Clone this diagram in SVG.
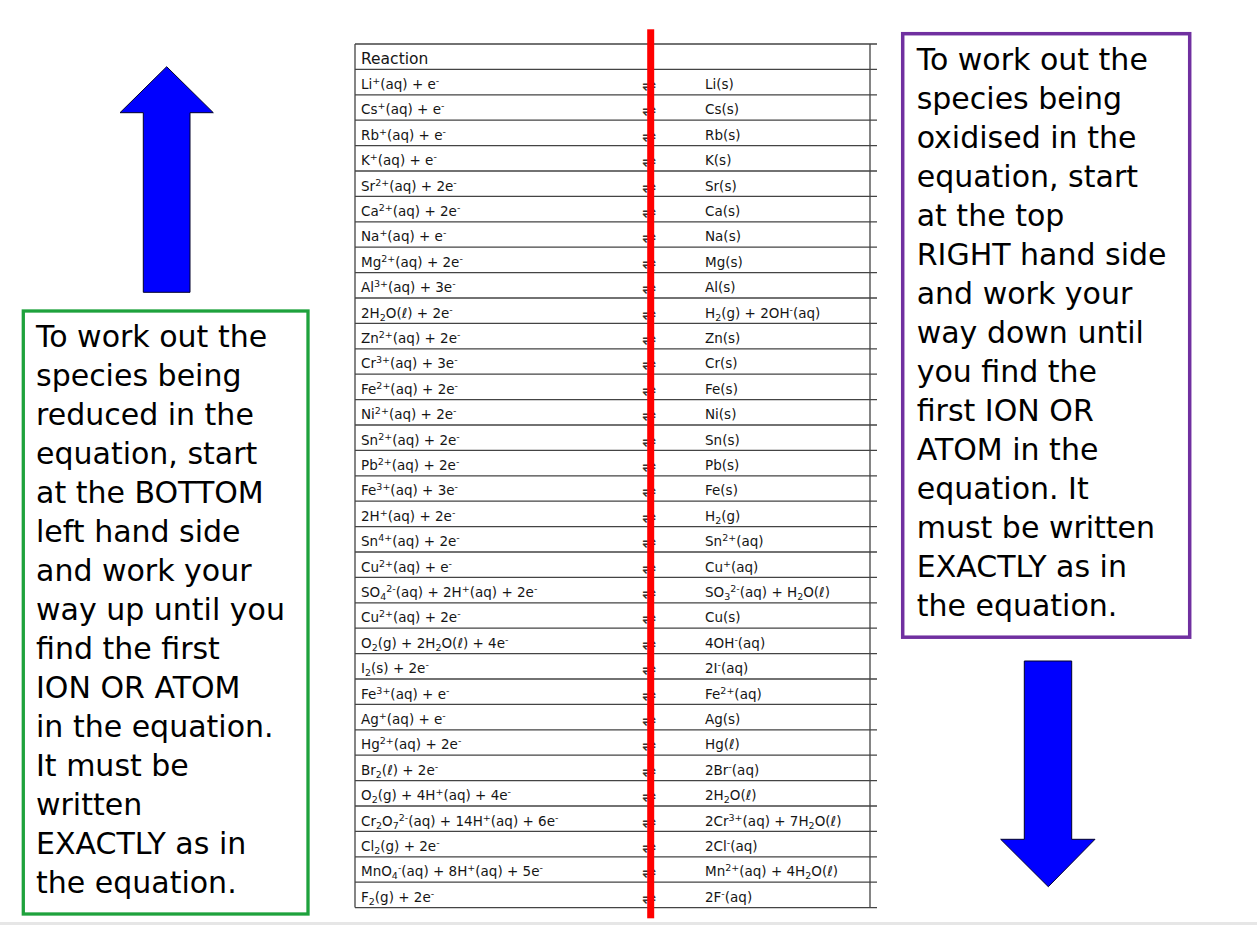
<svg xmlns="http://www.w3.org/2000/svg" xmlns:xlink="http://www.w3.org/1999/xlink" width="1257" height="925" viewBox="0 0 1257 925">
<style>
.t{font-family:"DejaVu Sans","Liberation Sans",sans-serif;font-size:13.5px;fill:#151515}
.h{font-family:"DejaVu Sans","Liberation Sans",sans-serif;font-size:15.5px;fill:#151515}
.u{font-size:9.5px;baseline-shift:5px}
.d{font-size:9.5px;baseline-shift:-3px}
.eq{font-family:"DejaVu Sans",sans-serif;font-size:17px;fill:#333;text-anchor:middle}
.note{font-family:"Comic Sans MS","DejaVu Sans",sans-serif;font-size:30px;fill:#000}
.arrow{fill:#0000ff;stroke:#00002a;stroke-width:1}
.grid{stroke:#444;stroke-width:1.3;fill:none}
</style>
<rect x="0" y="0" width="1257" height="925" fill="#fff"/>
<rect x="0" y="922" width="1257" height="3" fill="#e6e6e6"/>

<g id="up-arrow">
<polygon class="arrow" points="166.7,66.7 213.3,112.7 190,112.7 190,292.3 143.3,292.3 143.3,112.7 120,112.7"/>
</g>
<g id="down-arrow">
<polygon class="arrow" points="1024.3,661 1071.7,661 1071.7,839.3 1095,839.3 1048.3,886.7 1000.7,839.3 1024.3,839.3"/>
</g>

<g id="reduced-box">
<rect x="23.3" y="311" width="284.7" height="603" fill="#fff" stroke="#1ea23c" stroke-width="3.3"/>
<text class="note" x="36">
<tspan x="36" y="346.7">To work out the</tspan>
<tspan x="36" y="385.7">species being</tspan>
<tspan x="36" y="424.8">reduced in the</tspan>
<tspan x="36" y="463.8">equation, start</tspan>
<tspan x="36" y="502.9">at the BOTTOM</tspan>
<tspan x="36" y="541.9">left hand side</tspan>
<tspan x="36" y="581">and work your</tspan>
<tspan x="36" y="620">way up until you</tspan>
<tspan x="36" y="659">find the first</tspan>
<tspan x="36" y="698.1">ION OR ATOM</tspan>
<tspan x="36" y="737.1">in the equation.</tspan>
<tspan x="36" y="776.2">It must be</tspan>
<tspan x="36" y="815.2">written</tspan>
<tspan x="36" y="854.3">EXACTLY as in</tspan>
<tspan x="36" y="893.3">the equation.</tspan>
</text>
</g>

<g id="oxidised-box">
<rect x="902.7" y="33.7" width="287" height="603.5" fill="#fff" stroke="#7030a0" stroke-width="3.5"/>
<text class="note" x="916.7">
<tspan x="916.7" y="70">To work out the</tspan>
<tspan x="916.7" y="109">species being</tspan>
<tspan x="916.7" y="148">oxidised in the</tspan>
<tspan x="916.7" y="187">equation, start</tspan>
<tspan x="916.7" y="226">at the top</tspan>
<tspan x="916.7" y="265">RIGHT hand side</tspan>
<tspan x="916.7" y="304">and work your</tspan>
<tspan x="916.7" y="343">way down until</tspan>
<tspan x="916.7" y="382">you find the</tspan>
<tspan x="916.7" y="421">first ION OR</tspan>
<tspan x="916.7" y="460">ATOM in the</tspan>
<tspan x="916.7" y="499">equation. It</tspan>
<tspan x="916.7" y="538">must be written</tspan>
<tspan x="916.7" y="577">EXACTLY as in</tspan>
<tspan x="916.7" y="616">the equation.</tspan>
</text>
</g>

<g id="table">
<path class="grid" d="M355,44H877M355,69.4H877M355,94.8H877M355,120.2H877M355,145.6H877M355,171H877M355,196.4H877M355,221.8H877M355,247.2H877M355,272.6H877M355,298H877M355,323.4H877M355,348.8H877M355,374.2H877M355,399.6H877M355,425H877M355,450.4H877M355,475.8H877M355,501.2H877M355,526.6H877M355,552H877M355,577.4H877M355,602.8H877M355,628.2H877M355,653.6H877M355,679H877M355,704.4H877M355,729.8H877M355,755.2H877M355,780.6H877M355,806H877M355,831.4H877M355,856.8H877M355,882.2H877M355,907.6H877M355,44V907.6M870,44V907.6"/>
<text class="h" x="361" y="63.7">Reaction</text>

<g id="left-col" class="t">
<text x="361" y="88.9">Li<tspan class="u">+</tspan>(aq) + e<tspan class="u">-</tspan></text>
<text x="361" y="114.3">Cs<tspan class="u">+</tspan>(aq) + e<tspan class="u">-</tspan></text>
<text x="361" y="139.7">Rb<tspan class="u">+</tspan>(aq) + e<tspan class="u">-</tspan></text>
<text x="361" y="165.1">K<tspan class="u">+</tspan>(aq) + e<tspan class="u">-</tspan></text>
<text x="361" y="190.5">Sr<tspan class="u">2+</tspan>(aq) + 2e<tspan class="u">-</tspan></text>
<text x="361" y="215.9">Ca<tspan class="u">2+</tspan>(aq) + 2e<tspan class="u">-</tspan></text>
<text x="361" y="241.3">Na<tspan class="u">+</tspan>(aq) + e<tspan class="u">-</tspan></text>
<text x="361" y="266.7">Mg<tspan class="u">2+</tspan>(aq) + 2e<tspan class="u">-</tspan></text>
<text x="361" y="292.1">Al<tspan class="u">3+</tspan>(aq) + 3e<tspan class="u">-</tspan></text>
<text x="361" y="317.5">2H<tspan class="d">2</tspan>O(ℓ) + 2e<tspan class="u">-</tspan></text>
<text x="361" y="342.9">Zn<tspan class="u">2+</tspan>(aq) + 2e<tspan class="u">-</tspan></text>
<text x="361" y="368.3">Cr<tspan class="u">3+</tspan>(aq) + 3e<tspan class="u">-</tspan></text>
<text x="361" y="393.7">Fe<tspan class="u">2+</tspan>(aq) + 2e<tspan class="u">-</tspan></text>
<text x="361" y="419.1">Ni<tspan class="u">2+</tspan>(aq) + 2e<tspan class="u">-</tspan></text>
<text x="361" y="444.5">Sn<tspan class="u">2+</tspan>(aq) + 2e<tspan class="u">-</tspan></text>
<text x="361" y="469.9">Pb<tspan class="u">2+</tspan>(aq) + 2e<tspan class="u">-</tspan></text>
<text x="361" y="495.3">Fe<tspan class="u">3+</tspan>(aq) + 3e<tspan class="u">-</tspan></text>
<text x="361" y="520.7">2H<tspan class="u">+</tspan>(aq) + 2e<tspan class="u">-</tspan></text>
<text x="361" y="546.1">Sn<tspan class="u">4+</tspan>(aq) + 2e<tspan class="u">-</tspan></text>
<text x="361" y="571.5">Cu<tspan class="u">2+</tspan>(aq) + e<tspan class="u">-</tspan></text>
<text x="361" y="596.9">SO<tspan class="d">4</tspan><tspan class="u">2-</tspan>(aq) + 2H<tspan class="u">+</tspan>(aq) + 2e<tspan class="u">-</tspan></text>
<text x="361" y="622.3">Cu<tspan class="u">2+</tspan>(aq) + 2e<tspan class="u">-</tspan></text>
<text x="361" y="647.7">O<tspan class="d">2</tspan>(g) + 2H<tspan class="d">2</tspan>O(ℓ) + 4e<tspan class="u">-</tspan></text>
<text x="361" y="673.1">I<tspan class="d">2</tspan>(s) + 2e<tspan class="u">-</tspan></text>
<text x="361" y="698.5">Fe<tspan class="u">3+</tspan>(aq) + e<tspan class="u">-</tspan></text>
<text x="361" y="723.9">Ag<tspan class="u">+</tspan>(aq) + e<tspan class="u">-</tspan></text>
<text x="361" y="749.3">Hg<tspan class="u">2+</tspan>(aq) + 2e<tspan class="u">-</tspan></text>
<text x="361" y="774.7">Br<tspan class="d">2</tspan>(ℓ) + 2e<tspan class="u">-</tspan></text>
<text x="361" y="800.1">O<tspan class="d">2</tspan>(g) + 4H<tspan class="u">+</tspan>(aq) + 4e<tspan class="u">-</tspan></text>
<text x="361" y="825.5">Cr<tspan class="d">2</tspan>O<tspan class="d">7</tspan><tspan class="u">2-</tspan>(aq) + 14H<tspan class="u">+</tspan>(aq) + 6e<tspan class="u">-</tspan></text>
<text x="361" y="850.9">Cl<tspan class="d">2</tspan>(g) + 2e<tspan class="u">-</tspan></text>
<text x="361" y="876.3">MnO<tspan class="d">4</tspan><tspan class="u">-</tspan>(aq) + 8H<tspan class="u">+</tspan>(aq) + 5e<tspan class="u">-</tspan></text>
<text x="361" y="901.7">F<tspan class="d">2</tspan>(g) + 2e<tspan class="u">-</tspan></text>
</g>

<g id="equilibria" class="eq">
<text x="649" y="90.9">⇌</text><text x="649" y="116.3">⇌</text><text x="649" y="141.7">⇌</text><text x="649" y="167.1">⇌</text>
<text x="649" y="192.5">⇌</text><text x="649" y="217.9">⇌</text><text x="649" y="243.3">⇌</text><text x="649" y="268.7">⇌</text>
<text x="649" y="294.1">⇌</text><text x="649" y="319.5">⇌</text><text x="649" y="344.9">⇌</text><text x="649" y="370.3">⇌</text>
<text x="649" y="395.7">⇌</text><text x="649" y="421.1">⇌</text><text x="649" y="446.5">⇌</text><text x="649" y="471.9">⇌</text>
<text x="649" y="497.3">⇌</text><text x="649" y="522.7">⇌</text><text x="649" y="548.1">⇌</text><text x="649" y="573.5">⇌</text>
<text x="649" y="598.9">⇌</text><text x="649" y="624.3">⇌</text><text x="649" y="649.7">⇌</text><text x="649" y="675.1">⇌</text>
<text x="649" y="700.5">⇌</text><text x="649" y="725.9">⇌</text><text x="649" y="751.3">⇌</text><text x="649" y="776.7">⇌</text>
<text x="649" y="802.1">⇌</text><text x="649" y="827.5">⇌</text><text x="649" y="852.9">⇌</text><text x="649" y="878.3">⇌</text>
<text x="649" y="903.7">⇌</text>
</g>

<g id="right-col" class="t">
<text x="705" y="88.9">Li(s)</text>
<text x="705" y="114.3">Cs(s)</text>
<text x="705" y="139.7">Rb(s)</text>
<text x="705" y="165.1">K(s)</text>
<text x="705" y="190.5">Sr(s)</text>
<text x="705" y="215.9">Ca(s)</text>
<text x="705" y="241.3">Na(s)</text>
<text x="705" y="266.7">Mg(s)</text>
<text x="705" y="292.1">Al(s)</text>
<text x="705" y="317.5">H<tspan class="d">2</tspan>(g) + 2OH<tspan class="u">-</tspan>(aq)</text>
<text x="705" y="342.9">Zn(s)</text>
<text x="705" y="368.3">Cr(s)</text>
<text x="705" y="393.7">Fe(s)</text>
<text x="705" y="419.1">Ni(s)</text>
<text x="705" y="444.5">Sn(s)</text>
<text x="705" y="469.9">Pb(s)</text>
<text x="705" y="495.3">Fe(s)</text>
<text x="705" y="520.7">H<tspan class="d">2</tspan>(g)</text>
<text x="705" y="546.1">Sn<tspan class="u">2+</tspan>(aq)</text>
<text x="705" y="571.5">Cu<tspan class="u">+</tspan>(aq)</text>
<text x="705" y="596.9">SO<tspan class="d">3</tspan><tspan class="u">2-</tspan>(aq) + H<tspan class="d">2</tspan>O(ℓ)</text>
<text x="705" y="622.3">Cu(s)</text>
<text x="705" y="647.7">4OH<tspan class="u">-</tspan>(aq)</text>
<text x="705" y="673.1">2I<tspan class="u">-</tspan>(aq)</text>
<text x="705" y="698.5">Fe<tspan class="u">2+</tspan>(aq)</text>
<text x="705" y="723.9">Ag(s)</text>
<text x="705" y="749.3">Hg(ℓ)</text>
<text x="705" y="774.7">2Br<tspan class="u">-</tspan>(aq)</text>
<text x="705" y="800.1">2H<tspan class="d">2</tspan>O(ℓ)</text>
<text x="705" y="825.5">2Cr<tspan class="u">3+</tspan>(aq) + 7H<tspan class="d">2</tspan>O(ℓ)</text>
<text x="705" y="850.9">2Cl<tspan class="u">-</tspan>(aq)</text>
<text x="705" y="876.3">Mn<tspan class="u">2+</tspan>(aq) + 4H<tspan class="d">2</tspan>O(ℓ)</text>
<text x="705" y="901.7">2F<tspan class="u">-</tspan>(aq)</text>
</g>
</g>

<g id="red-line">
<rect x="647.2" y="29.3" width="7" height="889" fill="#ff0000"/>
</g>
</svg>
